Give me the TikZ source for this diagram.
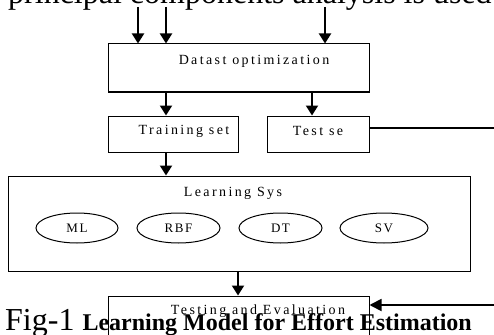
\documentclass[tikz,border=0pt]{standalone}
\usepackage{fontspec}
\setmainfont{Liberation Serif}
\newfontfamily\boxfont[LetterSpace=17]{Liberation Serif}
\newfontfamily\ellfont[LetterSpace=12]{Liberation Serif}
\usetikzlibrary{arrows.meta,shapes.geometric}
\begin{document}
\begin{tikzpicture}[x=1pt,y=-1pt,
  boxstyle/.style={draw=black,line width=1pt,inner sep=0pt,minimum width=#1},
  boxtext/.style={inner sep=0pt,font=\boxfont\fontsize{14}{16}\selectfont},
  algo/.style={draw=black,line width=1pt,ellipse,inner sep=0pt,minimum height=30pt,minimum width=#1,font=\ellfont\fontsize{13}{15}\selectfont},
  arr/.style={line width=2pt,-{Triangle[width=12pt,length=10pt]}},
  thinarr/.style={line width=1.8pt,-{Triangle[width=12pt,length=12pt]}},
  plain/.style={line width=1.1pt}]
\useasboundingbox (0,0) rectangle (494,334);
\clip (0,0) rectangle (494,334);

% cut-off text line at the top
\node[anchor=base west,inner sep=0pt,font=\fontsize{32}{34}\selectfont] (toptext) at (8,4) {principal components analysis is used};

% boxes
\node[boxstyle=261pt,minimum height=48pt] (dat) at (238.5,68) {};
\node[boxtext] (datt) at (254,61) {Datast optimization};

\node[boxstyle=130pt,minimum height=36pt] (train) at (173,134) {};
\node[boxtext] (traint) at (184,131) {Training set};

\node[boxstyle=102pt,minimum height=36pt] (test) at (318,134) {};
\node[boxtext] (testt) at (318,131) {Test se};

\node[boxstyle=462pt,minimum height=95pt] (learn) at (239,223.5) {};
\node[boxtext] (learnt) at (233,193) {Learning Sys};

\node[algo=82pt] (ml) at (77,228) {ML};
\node[algo=83pt] (rbf) at (178.5,228) {RBF};
\node[algo=83pt] (dt) at (280.5,228) {DT};
\node[algo=88pt] (sv) at (384,228) {SV};

\node[boxstyle=261pt,minimum height=50pt] (eval) at (238.5,321) {};
\node[boxtext,anchor=base] (evalt) at (258,314) {Testing and Evaluation};

% caption
\node[anchor=base west,inner sep=0pt] (cap) at (5,330)
  {\fontsize{32}{34}\selectfont Fig-1 \fontsize{24}{26}\selectfont\bfseries Learning Model for Effort Estimation};

% free ends
\coordinate (in1) at (138,7);
\coordinate (in2) at (166,7);
\coordinate (in3) at (325,7);
\coordinate (xa) at (166,0);
\coordinate (xb) at (312,0);
\coordinate (xc) at (238,0);
\coordinate (r1) at (494,128);
\coordinate (r2) at (494,305);

% connectors
\draw[arr] (in1) -- (in1 |- dat.north);
\draw[arr] (in2) -- (in2 |- dat.north);
\draw[arr] (in3) -- (in3 |- dat.north);
\draw[arr] (xa |- dat.south) -- (xa |- train.north);
\draw[arr] (xb |- dat.south) -- (xb |- test.north);
\draw[arr] (xa |- train.south) -- (xa |- learn.north);
\draw[arr] (xc |- learn.south) -- (xc |- eval.north);
\draw[plain] (r1 -| test.east) -- (r1);
\draw[thinarr] (r2) -- (r2 -| eval.east);
\end{tikzpicture}
\end{document}
